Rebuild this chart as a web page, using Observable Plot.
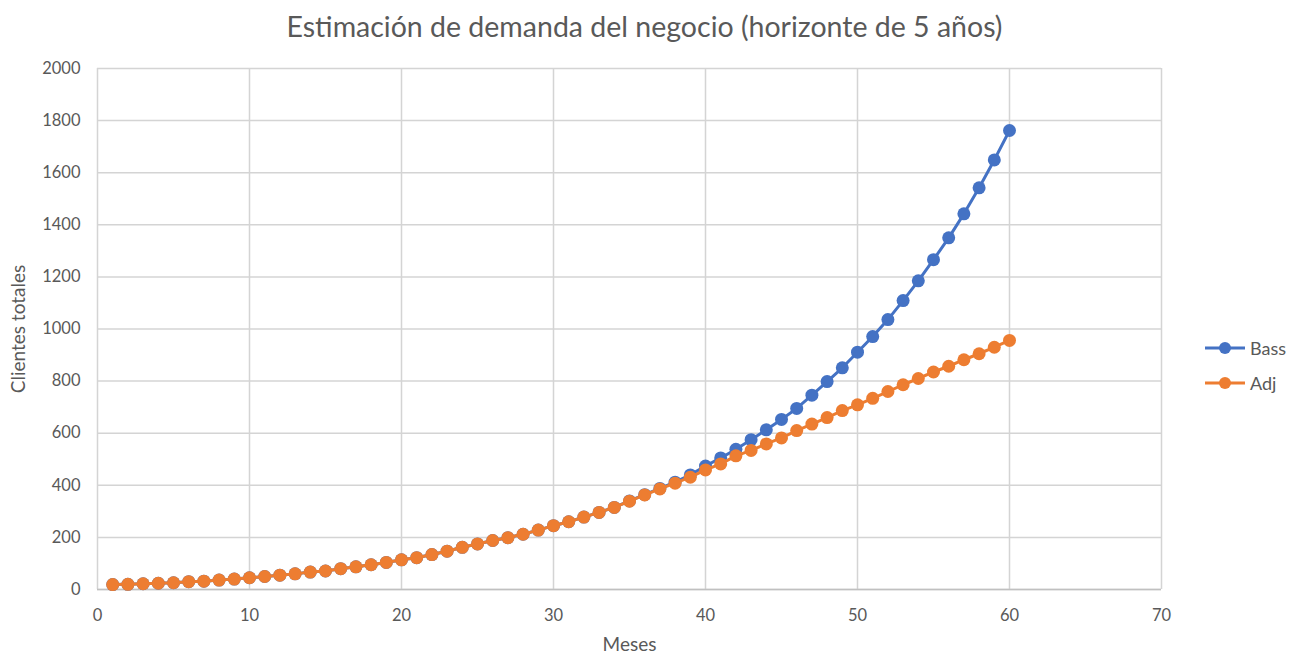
<!DOCTYPE html>
<html>
<head>
<meta charset="utf-8">
<script src="https://cdn.jsdelivr.net/npm/d3@7"></script>
<script src="https://cdn.jsdelivr.net/npm/@observablehq/plot@0.6"></script>
<style>
  html, body { margin: 0; padding: 0; background: #fff; }
  body { width: 1289px; height: 653px; position: relative; overflow: hidden; font-family: Lato, "Open Sans", sans-serif; color: #595959; }
  #title { height: 50px; line-height: 52px; text-align: center; font-size: 28.5px; color: #595959; }
  #legend { position: absolute; left: 1203px; top: 330px; font-size: 18px; color: #595959; }
  #legend .item { display: flex; align-items: center; height: 35px; }
  #legend svg { margin-right: 3px; }
  #chart g[aria-label="x-axis label"] text,
  #chart g[aria-label="y-axis label"] text { font-size: 19px; }
</style>
</head>
<body>
<div id="title">Estimación de demanda del negocio (horizonte de 5 años)</div>
<div id="chart"></div>
<div id="legend"></div>
<script>
// Months of the five-year horizon
const months = d3.range(1, 61);

// Cumulative customers, Bass diffusion model
const bass = [
  19, 20, 22, 24, 26, 30, 32, 36, 40, 45,
  50, 55, 60, 67, 71, 80, 87, 95, 104, 114,
  122, 134, 147, 162, 175, 188, 199, 212, 228, 245,
  260, 278, 296, 315, 340, 364, 388, 412, 440, 474,
  505, 538, 575, 613, 653, 695, 746, 798, 851, 911,
  971, 1036, 1109, 1185, 1266, 1350, 1442, 1542, 1649, 1762
];

// Cumulative customers, adjusted estimate
const adj = [
  19, 20, 22, 24, 26, 30, 32, 36, 40, 45,
  50, 55, 60, 67, 71, 80, 87, 95, 104, 114,
  122, 134, 147, 162, 175, 188, 199, 212, 228, 245,
  260, 278, 296, 315, 339, 363, 386, 408, 431, 459,
  482, 513, 534, 559, 582, 610, 635, 660, 687, 709,
  734, 760, 786, 810, 835, 857, 882, 905, 930, 956
];

const seriesNames = ["Bass", "Adj"];
const seriesColors = ["#4472C4", "#ED7D31"];
const xTicks = [0, 10, 20, 30, 40, 50, 60, 70];
const yTicks = [0, 200, 400, 600, 800, 1000, 1200, 1400, 1600, 1800, 2000];

const rows = [
  ...months.map((m, i) => ({month: m, value: bass[i], series: seriesNames[0]})),
  ...months.map((m, i) => ({month: m, value: adj[i], series: seriesNames[1]}))
];

const gridColor = "#d4d4d4";

const marks = [
  Plot.gridX(xTicks, {stroke: gridColor, strokeOpacity: 1, strokeWidth: 1.5}),
  Plot.gridY(yTicks, {stroke: gridColor, strokeOpacity: 1, strokeWidth: 1.5}),
  Plot.ruleY([0], {stroke: "#c0c0c0", strokeWidth: 1.5}),
  Plot.axisX(xTicks, {tickSize: 0, tickPadding: 20, fontSize: 16.5, tickFormat: d => String(d),
    label: "Meses", labelAnchor: "center", labelArrow: "none", labelOffset: 61}),
  Plot.axisY(yTicks, {tickSize: 0, tickPadding: 17, fontSize: 16.5, tickFormat: d => String(d),
    label: "Clientes totales", labelAnchor: "center", labelArrow: "none", labelOffset: 86})
];

// Draw Bass first so the adjusted series sits on top
for (const name of seriesNames) {
  const data = rows.filter(d => d.series === name);
  marks.push(Plot.line(data, {x: "month", y: "value", stroke: "series", strokeWidth: 3}));
  marks.push(Plot.dot(data, {x: "month", y: "value", fill: "series", r: 6.5}));
}

const chart = Plot.plot({
  width: 1289,
  height: 603,
  marginTop: 18,
  marginBottom: 64,
  marginLeft: 97,
  marginRight: 128,
  style: {fontFamily: "Lato, 'Open Sans', sans-serif", color: "#595959", fontSize: "16px", background: "#fff"},
  x: {domain: [0, 70]},
  y: {domain: [0, 2000]},
  color: {domain: seriesNames, range: seriesColors},
  marks
});
document.getElementById("chart").appendChild(chart);

// Legend: line with marker, then series name
const legend = document.getElementById("legend");
seriesNames.forEach((name, i) => {
  const item = document.createElement("div");
  item.className = "item";
  item.innerHTML = `<svg width="44" height="16"><line x1="2" x2="42" y1="8" y2="8" stroke="${seriesColors[i]}" stroke-width="3"/><circle cx="22" cy="8" r="6" fill="${seriesColors[i]}"/></svg><span>${name}</span>`;
  legend.appendChild(item);
});
</script>
</body>
</html>
